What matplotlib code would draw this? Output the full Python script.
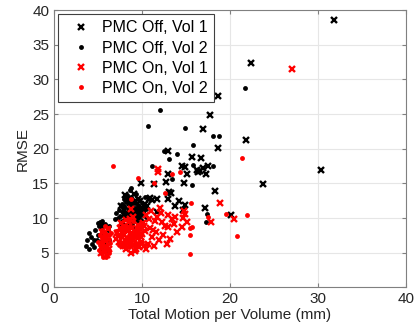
import matplotlib.pyplot as plt
import numpy as np

plt.rcParams['font.family'] = ['Liberation Sans', 'DejaVu Sans']

# PMC Off, Vol 1 (black crosses)
off1_x = [8.0, 8.3, 8.7, 9.0, 9.2, 9.5, 9.8, 10.0, 10.3, 8.5, 7.6, 9.1, 10.6, 10.9, 9.7, 8.1,
          9.9, 11.4, 12.7, 14.8, 13.1, 13.25, 9.6, 10.8, 11.7, 13.0, 14.25, 13.8, 17.2, 18.3,
          12.9, 15.1, 16.4, 16.9, 17.3, 17.55, 16.6, 14.9, 15.7, 16.7, 12.9, 18.6, 16.9, 17.75,
          18.65, 22.4, 31.8, 21.8, 30.3, 23.8, 20.1, 11.1, 14.7, 14.6, 16.2, 14.9, 11.7,
          8.9, 9.4, 7.9, 10.2, 8.6]
off1_y = [11.2, 12.8, 11.6, 10.5, 12.4, 11.0, 12.5, 11.4, 12.0, 10.1, 11.8, 13.5, 11.8, 12.9, 10.0, 13.3,
          15.0, 14.9, 15.15, 15.0, 13.8, 13.6, 12.8, 12.7, 12.7, 12.7, 12.5, 11.7, 11.4, 13.9,
          16.35, 16.4, 16.6, 17.2, 16.3, 17.5, 16.8, 17.3, 18.8, 18.6, 19.7, 20.1, 22.9, 24.9,
          27.6, 32.4, 38.6, 21.2, 16.9, 14.9, 10.5, 12.6, 11.15, 17.5, 16.9, 11.9, 10.9,
          11.9, 10.7, 10.4, 10.9, 12.2]

# PMC Off, Vol 2 (black dots)
off2_x = [3.7, 4.0, 3.65, 4.0, 4.3, 4.5, 4.7, 5.0, 5.2, 5.4, 5.1, 5.3, 5.6, 5.8, 5.5, 5.0,
          4.9, 5.2, 5.6, 5.9, 6.1, 6.3, 5.7, 4.6, 5.3, 5.9, 6.2, 4.2, 5.5,
          7.3, 7.5, 7.7, 7.8, 7.9, 8.0, 8.1, 8.2, 8.3, 8.4, 8.5, 8.6, 8.7, 8.8, 8.9, 9.0,
          9.1, 9.2, 9.3, 9.4, 9.5, 9.6, 9.7, 9.8, 9.9, 10.0, 10.1, 10.2, 8.0, 8.4, 7.6, 8.8,
          9.3, 8.6, 7.9, 10.3, 10.4, 9.0, 6.9, 7.1, 10.5,
          7.4, 7.7, 8.1, 8.5, 8.9, 9.2, 9.6, 9.9, 8.3, 8.7, 9.4, 7.8,
          12.1, 10.7, 14.9, 18.05, 18.8, 15.8, 13.95, 13.1, 15.8, 18.1, 13.4, 15.7, 8.8, 8.3,
          21.7, 17.4, 17.3, 11.1, 12.5]
off2_y = [6.9, 7.8, 6.0, 5.5, 6.3, 5.8, 8.3, 9.3, 9.4, 9.2, 8.8, 8.5, 8.9, 9.2, 8.0, 7.5,
          6.8, 6.5, 7.2, 7.6, 8.3, 8.8, 6.3, 6.9, 5.6, 5.4, 6.8, 7.2, 9.6,
          10.0, 10.3, 9.6, 11.0, 10.6, 11.7, 9.9, 12.3, 10.8, 11.3, 9.5, 12.0, 10.4, 11.0, 9.2, 12.6,
          10.9, 11.5, 9.8, 10.2, 11.9, 12.8, 10.6, 11.2, 9.7, 12.2, 10.9, 11.6, 8.8, 9.1, 8.9, 13.0,
          13.4, 14.1, 12.7, 13.1, 10.2, 8.7, 9.9, 10.8, 11.3,
          11.2, 12.0, 10.5, 10.9, 10.1, 12.1, 11.6, 10.4, 12.7, 11.8, 9.4, 9.2,
          25.6, 23.3, 23.0, 21.9, 21.9, 20.6, 19.3, 18.5, 17.6, 17.5, 15.6, 14.8, 14.3, 13.3,
          28.8, 10.6, 9.5, 17.5, 19.6]

# PMC On, Vol 1 (red crosses)
on1_x = [7.0, 7.2, 7.4, 7.5, 7.7, 7.8, 7.9, 8.0, 8.1, 8.2, 8.3, 8.4, 8.5, 8.6, 8.7, 8.8,
         8.9, 9.0, 9.1, 9.2, 9.3, 9.4, 9.5, 9.6, 9.7, 9.8, 9.9, 10.0, 10.1, 10.2, 10.3, 10.4,
         8.7, 9.0, 8.2, 7.6, 8.5, 9.3, 8.0, 9.6,
         7.3, 7.9, 8.4, 8.8, 9.1, 9.5, 9.9, 10.2, 8.6, 9.3, 7.7, 8.1,
         10.7, 10.9, 11.1, 11.3, 11.5, 11.7, 11.9, 12.25, 12.4, 12.6, 12.9, 13.0, 13.2, 13.4,
         13.8, 14.0, 14.5, 14.7, 14.9, 14.8, 15.1, 11.8, 11.8, 18.9, 17.9, 20.5, 27.1,
         10.5, 11.0, 12.0, 11.4, 12.8, 10.8, 11.6, 12.2, 13.6,
         5.3, 5.6, 5.9, 6.2, 5.5, 6.0, 5.8, 5.7, 6.1]
on1_y = [7.0, 7.8, 6.5, 8.5, 7.2, 6.0, 8.9, 7.6, 6.8, 5.5, 8.2, 7.0, 9.4, 6.3, 7.8, 5.0,
         8.6, 6.9, 7.4, 5.2, 8.0, 6.2, 9.0, 7.1, 5.8, 8.4, 6.6, 7.7, 9.3, 6.0, 8.1, 5.6,
         11.3, 10.2, 9.7, 9.3, 6.6, 7.6, 8.3, 6.0,
         7.4, 6.3, 8.7, 7.3, 6.1, 8.1, 7.3, 8.8, 9.9, 5.5, 8.0, 5.9,
         6.2, 8.5, 7.3, 8.3, 9.6, 10.2, 6.8, 9.5, 7.55, 8.9, 10.5, 8.75, 7.0, 9.8,
         10.2, 8.0, 8.75, 10.0, 10.6, 11.0, 9.5, 17.1, 16.7, 12.2, 9.5, 9.9, 31.5,
         10.5, 11.0, 11.4, 5.9, 6.3, 9.9, 8.0, 10.7, 9.2,
         5.0, 6.2, 7.3, 5.6, 8.0, 4.6, 6.7, 5.3, 8.4]

# PMC On, Vol 2 (red dots)
on2_x = [5.0, 5.2, 5.3, 5.4, 5.5, 5.6, 5.7, 5.8, 5.9, 6.0, 6.1, 6.2, 6.3, 6.4, 5.1, 5.5,
         5.9, 6.0, 5.6, 6.3, 5.4, 5.8, 6.5, 5.2, 5.7, 6.2, 5.9, 5.4,
         7.1, 7.6, 8.0, 8.3, 8.6, 8.9, 9.2, 9.4, 9.7, 10.0, 8.5, 9.0, 7.4, 9.9,
         6.7, 21.35, 15.55, 15.5, 15.5, 15.4, 15.7, 19.6, 21.9, 20.8, 17.55, 9.5, 11.4, 12.6,
         8.8, 14.3, 13.4]
on2_y = [6.5, 7.5, 5.8, 8.3, 4.8, 6.9, 5.3, 7.8, 4.4, 6.1, 8.6, 5.0, 7.0, 6.4, 5.4, 7.2,
         5.7, 7.5, 4.4, 5.4, 6.3, 8.9, 7.8, 6.1, 6.0, 7.6, 6.8, 7.0,
         8.2, 7.5, 6.4, 7.3, 8.8, 7.0, 6.5, 8.5, 7.5, 6.5, 5.8, 9.6, 6.1, 8.9,
         17.5, 18.6, 12.1, 8.6, 7.5, 4.8, 8.65, 10.6, 10.5, 7.4, 10.2, 15.8, 15.1, 13.65,
         12.7, 16.7, 16.4]

fig = plt.figure(figsize=(4.17, 3.24), dpi=100)
ax = fig.add_axes([0.1295, 0.113, 0.844, 0.856])

ax.plot(off1_x, off1_y, 'x', color='black', ms=4.5, mew=1.7, label='PMC Off, Vol 1')
ax.plot(off2_x, off2_y, 'o', color='black', ms=3.5, mew=0, label='PMC Off, Vol 2')
ax.plot(on1_x, on1_y, 'x', color='red', ms=4.5, mew=1.7, label='PMC On, Vol 1')
ax.plot(on2_x, on2_y, 'o', color='red', ms=3.5, mew=0, label='PMC On, Vol 2')

ax.set_xlim(0, 40)
ax.set_ylim(0, 40)
ax.set_xticks(np.arange(0, 41, 10))
ax.set_yticks(np.arange(0, 41, 5))
ax.grid(True, color='#e6e6e6', linewidth=0.8)
ax.set_axisbelow(True)
ax.tick_params(direction='in', top=True, right=True, labelsize=11, length=3,
               color='#808080', labelcolor='#262626')
for s in ax.spines.values():
    s.set_color('#808080')
ax.set_xlabel('Total Motion per Volume (mm)', fontsize=11, color='#262626', labelpad=1)
ax.set_ylabel('RMSE', fontsize=11, color='#262626', labelpad=2)

leg = ax.legend(loc='upper left', fontsize=11.5, fancybox=False, framealpha=1,
                edgecolor='#404040', handlelength=2.1, handletextpad=0.25,
                borderaxespad=0.25, labelspacing=0.32, borderpad=0.4)
leg.get_frame().set_linewidth(0.8)

fig.savefig('out.png')
